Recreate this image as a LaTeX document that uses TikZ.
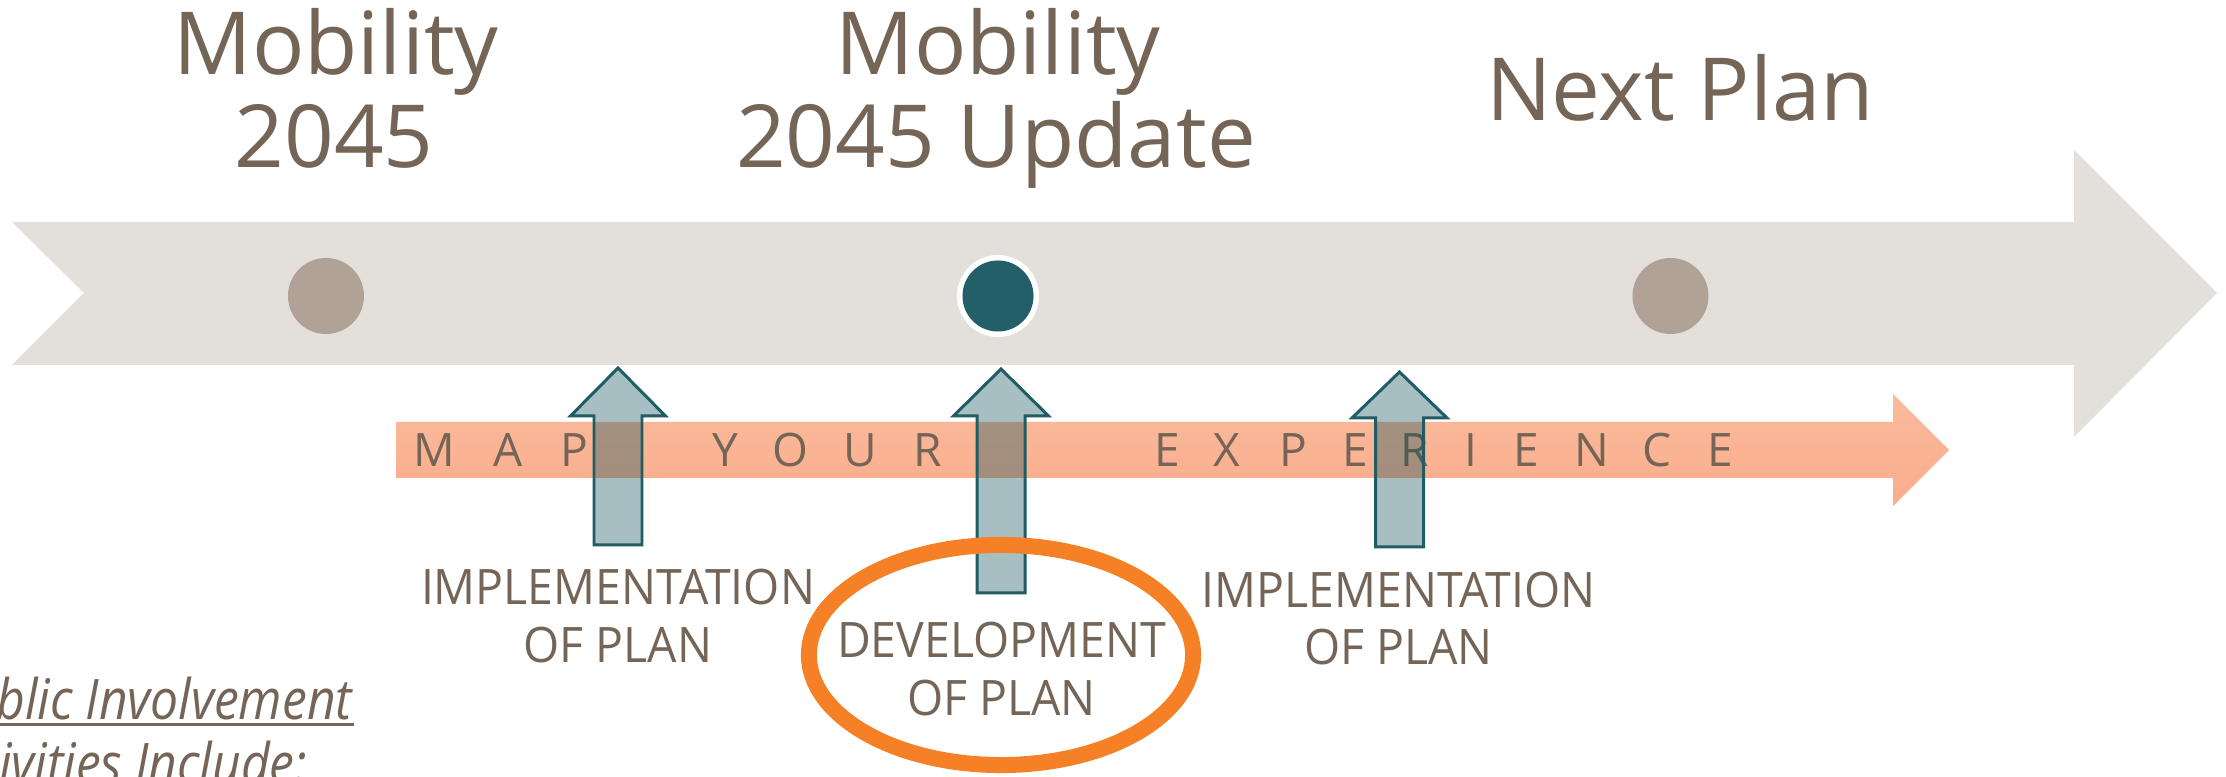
\documentclass[tikz,border=0pt]{standalone}
\usepackage{fontspec}
\setmainfont{Open Sans}
\newfontfamily\lblfont[FakeStretch=0.95]{Open Sans}
\newfontfamily\itfont[FakeStretch=0.89]{Open Sans Italic}
\definecolor{txt}{RGB}{117,101,87}
\definecolor{band}{RGB}{227,224,219}
\definecolor{dotc}{RGB}{176,162,150}
\definecolor{tealc}{RGB}{34,95,104}
\definecolor{orTop}{RGB}{249,187,158}
\definecolor{orBot}{RGB}{250,172,138}
\definecolor{blueFill}{RGB}{13,79,87}
\definecolor{blueLine}{RGB}{31,92,99}
\definecolor{ringc}{RGB}{245,128,37}
\begin{document}
\begin{tikzpicture}[x=0.01cm,y=-0.01cm,
  titletxt/.style={inner sep=0pt,anchor=base,text=txt,font=\fontsize{24.75pt}{28pt}\selectfont},
  lbltxt/.style={inner sep=0pt,anchor=base,text=txt,font=\lblfont\fontsize{13.9pt}{16pt}\selectfont},
  maptxt/.style={inner sep=0pt,anchor=base,text=txt,font=\fontsize{13.1pt}{15pt}\selectfont},
  bottxt/.style={inner sep=0pt,anchor=base east,text=txt,font=\itfont\fontsize{15.9pt}{18pt}\selectfont},
  bluearrow/.style={fill=blueFill,fill opacity=0.36,draw=blueLine,draw opacity=1,line width=0.85pt,line join=miter},
  dotstyle/.style={fill=dotc}
]
\useasboundingbox (0,0) rectangle (2226,777);
\clip (0,0) rectangle (2226,777);
\fill[white] (0,0) rectangle (2226,777);

% grey timeline arrow
\fill[band] (12,222) -- (2074,222) -- (2074,150) -- (2217,293) -- (2074,437) -- (2074,365) -- (12,365) -- (84,293) -- cycle;

% dots
\fill[dotstyle] (326,296) circle[radius=0.38cm];
\fill[white] (998,296) circle[radius=0.41cm];
\fill[tealc] (998,296) circle[radius=0.355cm];
\fill[dotstyle] (1670.5,296) circle[radius=0.38cm];

% orange arrow
\shade[top color=orTop,bottom color=orBot] (396,422) -- (1893,422) -- (1893,394) -- (1949,450) -- (1893,506) -- (1893,478) -- (396,478) -- cycle;

% MAP YOUR EXPERIENCE
\foreach \x/\l [count=\i] in {434.5/M,508/A,574/P,725/Y,790.5/O,860/U,927.5/R,1167.5/E,1227/X,1293.5/P,1355.5/E,1414.5/R,1470.5/I,1526.5/E,1592/N,1657.5/C,1720/E}
  \node[maptxt] (map\i) at (\x,467) {\l};

% blue up arrows
\foreach \cx/\ty/\hb/\by in {618/368/416/545, 1001/369/416/593, 1399.5/372/418/547}
  \draw[bluearrow] (\cx,\ty) -- ({\cx+47.5},\hb) -- ({\cx+24},\hb) -- ({\cx+24},\by) -- ({\cx-24},\by) -- ({\cx-24},\hb) -- ({\cx-47.5},\hb) -- cycle;

% titles
\node[titletxt] (t1a) at (336,75) {Mobility};
\node[titletxt] (t1b) at (334,168) {2045};
\node[titletxt] (t2a) at (998,75) {Mobility};
\node[titletxt] (t2b) at (996,168) {2045 Update};
\node[titletxt] (t3) at (1680,121) {Next Plan};

% labels
\node[lbltxt] (l1a) at (618,605) {IMPLEMENTATION};
\node[lbltxt] (l1b) at (618,663) {OF PLAN};
\node[lbltxt] (l2a) at (1001.5,658) {DEVELOPMENT};
\node[lbltxt] (l2b) at (1001.5,716) {OF PLAN};
\node[lbltxt] (l3a) at (1398.5,608) {IMPLEMENTATION};
\node[lbltxt] (l3b) at (1398.5,665) {OF PLAN};

% orange ellipse
\draw[ringc,line width=4.55pt] (1001,655) ellipse[x radius=1.92cm,y radius=1.10cm];

% bottom-left text
\node[bottxt] (b1) at (353,720) {Public Involvement};
\draw[txt,line width=0.7pt] (0,724.5) -- (354,724.5);
\node[bottxt] (b2) at (308,784) {Activities Include:};
\end{tikzpicture}
\end{document}
